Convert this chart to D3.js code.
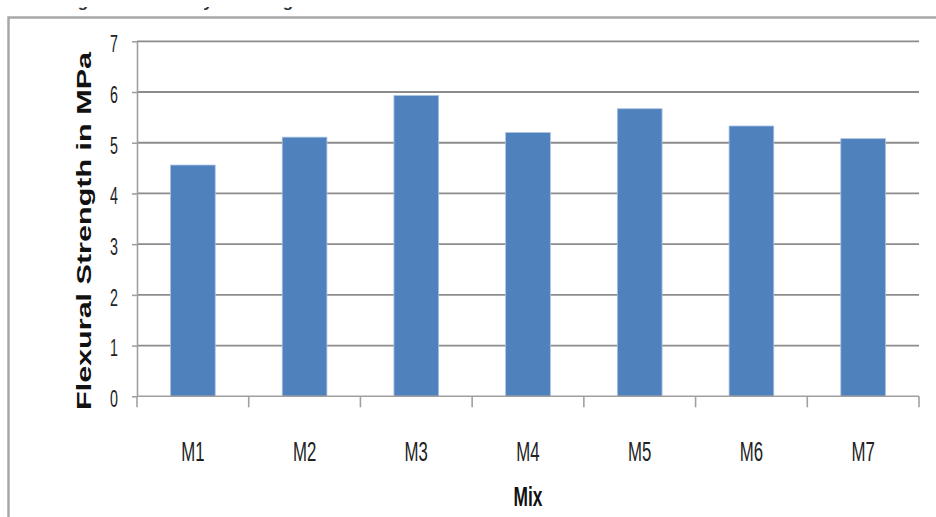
<!DOCTYPE html>
<html><head><meta charset="utf-8">
<script src="https://cdn.jsdelivr.net/npm/d3@7"></script>
<style>body{margin:0;background:#fff}svg{display:block}</style>
</head><body>
<script>
const categories = ["M1","M2","M3","M4","M5","M6","M7"];
const values = [4.56, 5.11, 5.93, 5.20, 5.67, 5.33, 5.08];
const yTicks = [0,1,2,3,4,5,6,7];
const yTitle = "Flexural Strength in MPa";
const xTitle = "Mix";
const titleFragments = [{t:"g",x:83},{t:"y",x:208},{t:"g",x:288}];

const W = 936, H = 517;
const svg = d3.select("body").append("svg").attr("width", W).attr("height", H);
const pLeft = 137, pRight = 919, pTop = 41.3, pBottom = 396.3;

// clipped title remnants (the reference is cropped through its title)
svg.append("clipPath").attr("id","tc").append("rect").attr("x",0).attr("y",7).attr("width",W).attr("height",9);
svg.append("g").attr("clip-path","url(#tc)").selectAll("text").data(titleFragments).enter().append("text")
  .attr("x", d=>d.x).attr("y", 7).attr("text-anchor","middle")
  .attr("font-family","Liberation Sans, Arial, sans-serif").attr("font-weight","bold").attr("font-size",17)
  .attr("fill","#333").text(d=>d.t);

// outer frame
svg.append("path").attr("d", `M8.5,${H} V17.5 H${W}`).attr("fill","none").attr("stroke","#a8a8a8").attr("stroke-width",2.5);

const x = d3.scaleBand().domain(categories).range([pLeft, pRight]).paddingInner(0.6).paddingOuter(0.3);
const y = d3.scaleLinear().domain([0,7]).range([pBottom, pTop]);

// gridlines
svg.append("g").selectAll("line").data(yTicks.filter(d=>d>0)).enter().append("line")
  .attr("x1", pLeft).attr("x2", pRight).attr("y1", d=>y(d)).attr("y2", d=>y(d))
  .attr("stroke","#8c8c8c").attr("stroke-width",1.8);

// bars
svg.append("g").selectAll("rect").data(values).enter().append("rect")
  .attr("x", (d,i)=>x(categories[i])).attr("width", x.bandwidth())
  .attr("y", d=>y(d)).attr("height", d=>pBottom - y(d))
  .attr("fill","#4F81BD").attr("stroke","#a9c1e3").attr("stroke-width",0.8);

// y axis
const ya = svg.append("g").attr("transform",`translate(${pLeft},0)`)
  .call(d3.axisLeft(y).tickValues(yTicks).tickFormat(d3.format("d")).tickSize(5).tickSizeOuter(0));
ya.select(".domain").attr("stroke","#a0a0a0").attr("stroke-width",1.6);
ya.selectAll(".tick line").attr("stroke","#a0a0a0").attr("stroke-width",1.6);
ya.selectAll(".tick text").attr("font-family","Liberation Sans, Arial, sans-serif").attr("font-size",23)
  .attr("fill","#222").attr("x",0).attr("dy","0.45em")
  .attr("transform","translate(-19,0) scale(0.62,1)").attr("text-anchor","end");

// x axis
const boundaries = d3.range(categories.length+1).map(i => pLeft + i*(pRight-pLeft)/categories.length);
svg.append("line").attr("x1",pLeft).attr("x2",pRight).attr("y1",pBottom).attr("y2",pBottom)
  .attr("stroke","#a0a0a0").attr("stroke-width",1.6);
svg.append("g").selectAll("line").data(boundaries).enter().append("line")
  .attr("x1",d=>d).attr("x2",d=>d).attr("y1",pBottom).attr("y2",pBottom+11)
  .attr("stroke","#a0a0a0").attr("stroke-width",1.6);
svg.append("g").selectAll("text").data(categories).enter().append("text")
  .attr("transform", d=>`translate(${x(d)+x.bandwidth()/2},461) scale(0.6,1)`)
  .attr("text-anchor","middle").attr("font-family","Liberation Sans, Arial, sans-serif")
  .attr("font-size",28).attr("fill","#222").text(d=>d);

// axis titles
svg.append("text").attr("transform",`translate(${(pLeft+pRight)/2},506) scale(0.62,1)`)
  .attr("text-anchor","middle").attr("font-family","Liberation Sans, Arial, sans-serif")
  .attr("font-weight","bold").attr("font-size",28).attr("fill","#111").text(xTitle);
svg.append("text").attr("transform","translate(91,231) rotate(-90)")
  .attr("text-anchor","middle").attr("font-family","Liberation Sans, Arial, sans-serif")
  .attr("font-weight","bold").attr("font-size",20).attr("fill","#111")
  .attr("textLength",358).attr("lengthAdjust","spacingAndGlyphs").text(yTitle);
</script>
</body></html>
